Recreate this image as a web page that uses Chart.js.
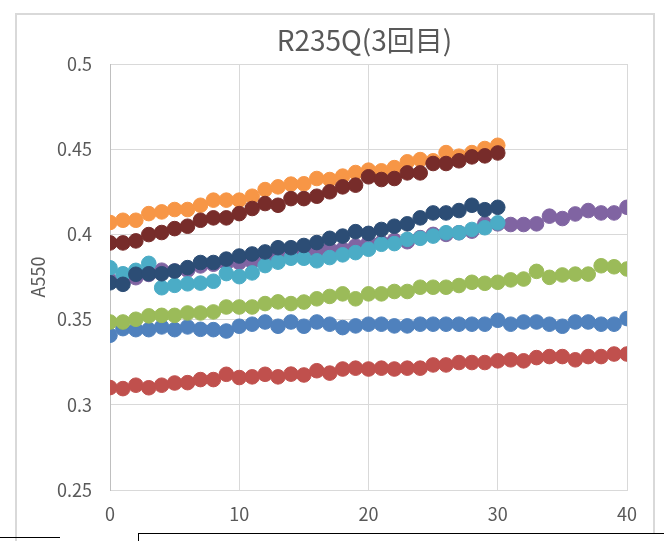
<!DOCTYPE html>
<html lang="ja">
<head>
  <meta charset="UTF-8">
  <title>R235Q(3回目)</title>
  <script src="https://cdn.jsdelivr.net/npm/chart.js"></script>
  <style>
    body {
      margin: 0;
      background: #fff;
      width: 664px;
      height: 541px;
      overflow: hidden;
      position: relative;
    }
    #chart {
      position: absolute;
      left: 0;
      top: 0;
    }
    .frame {
      position: absolute;
      left: 15px;
      top: 13px;
      width: 636px;
      height: 540px;
      border: 2px solid #d9d9d9;
    }
    .edge-left {
      position: absolute;
      left: 0;
      top: 537px;
      width: 60px;
      border-top: 1px solid #000;
    }
    .edge-box {
      position: absolute;
      left: 138px;
      top: 533px;
      width: 540px;
      height: 20px;
      border: 1px solid #000;
      background: #fff;
    }
  </style>
</head>
<body>
  <div class="frame"></div>
  <canvas id="chart" width="664" height="541"></canvas>
  <div class="edge-left"></div>
  <div class="edge-box"></div>

  <script>
    const minutes = [0, 1, 2, 3, 4, 5, 6, 7, 8, 9, 10, 11, 12, 13, 14, 15, 16, 17, 18, 19, 20,
      21, 22, 23, 24, 25, 26, 27, 28, 29, 30, 31, 32, 33, 34, 35, 36, 37, 38, 39, 40];

    const blue = [0.3408, 0.3447, 0.3441, 0.3441, 0.3457, 0.3441, 0.3457, 0.3443, 0.3441, 0.3433,
      0.3461, 0.3473, 0.3486, 0.3461, 0.3486, 0.3461, 0.3486, 0.3473, 0.3453, 0.3463,
      0.3473, 0.3473, 0.3463, 0.3463, 0.3473, 0.3473, 0.3473, 0.3473, 0.3473, 0.3473,
      0.3496, 0.3473, 0.3486, 0.3486, 0.3473, 0.3461, 0.3486, 0.3486, 0.3473, 0.3473, 0.3506];

    const red = [0.3101, 0.3095, 0.3115, 0.3100, 0.3115, 0.3128, 0.3130, 0.3148, 0.3148, 0.3179,
      0.3160, 0.3164, 0.3179, 0.3164, 0.3180, 0.3175, 0.3200, 0.3186, 0.3210, 0.3215,
      0.3210, 0.3215, 0.3210, 0.3215, 0.3215, 0.3234, 0.3234, 0.3248, 0.3248, 0.3248,
      0.3258, 0.3264, 0.3258, 0.3277, 0.3283, 0.3283, 0.3264, 0.3283, 0.3283, 0.3298, 0.3298];

    const green = [0.3486, 0.3486, 0.3502, 0.3522, 0.3525, 0.3525, 0.3539, 0.3539, 0.3545, 0.3574,
      0.3574, 0.3574, 0.3594, 0.3604, 0.3594, 0.3603, 0.3622, 0.3636, 0.3651, 0.3622,
      0.3651, 0.3651, 0.3665, 0.3665, 0.3690, 0.3690, 0.3690, 0.3700, 0.3719, 0.3713,
      0.3719, 0.3733, 0.3738, 0.3783, 0.3748, 0.3762, 0.3767, 0.3767, 0.3816, 0.3810, 0.3797];

    const purple = [0.3730, 0.3726, 0.3746, 0.3765, 0.3790, 0.3785, 0.3790, 0.3815, 0.3825, 0.3830,
      0.3835, 0.3840, 0.3850, 0.3875, 0.3885, 0.3895, 0.3903, 0.3913, 0.3913, 0.3932,
      0.3952, 0.3952, 0.3965, 0.3957, 0.3981, 0.4000, 0.4000, 0.4010, 0.4019, 0.4062,
      0.4062, 0.4058, 0.4058, 0.4062, 0.4107, 0.4093, 0.4120, 0.4140, 0.4126, 0.4126, 0.4159];

    const aqua = [0.3804, 0.3769, 0.3789, 0.3830, 0.3687, 0.3701, 0.3710, 0.3714, 0.3725, 0.3770,
      0.3752, 0.3774, 0.3817, 0.3837, 0.3860, 0.3860, 0.3845, 0.3864, 0.3880, 0.3893,
      0.3913, 0.3942, 0.3946, 0.3971, 0.3977, 0.3990, 0.4010, 0.4010, 0.4029, 0.4039, 0.4068];

    const orange = [0.4070, 0.4083, 0.4083, 0.4122, 0.4132, 0.4146, 0.4146, 0.4171, 0.4201, 0.4201,
      0.4201, 0.4224, 0.4263, 0.4279, 0.4295, 0.4297, 0.4328, 0.4322, 0.4342, 0.4363,
      0.4377, 0.4373, 0.4392, 0.4426, 0.4439, 0.4432, 0.4480, 0.4459, 0.4480, 0.4504, 0.4523];

    const darkBlue = [0.3716, 0.3707, 0.3766, 0.3769, 0.3769, 0.3785, 0.3805, 0.3835, 0.3835, 0.3855,
      0.3873, 0.3885, 0.3897, 0.3922, 0.3922, 0.3935, 0.3952, 0.3977, 0.3990, 0.4016,
      0.4006, 0.4029, 0.4048, 0.4062, 0.4097, 0.4126, 0.4126, 0.4140, 0.4171, 0.4145, 0.4159];

    const darkRed = [0.3950, 0.3950, 0.3962, 0.3999, 0.4011, 0.4034, 0.4048, 0.4083, 0.4097, 0.4097,
      0.4122, 0.4152, 0.4181, 0.4171, 0.4210, 0.4210, 0.4224, 0.4250, 0.4279, 0.4289,
      0.4338, 0.4322, 0.4328, 0.4361, 0.4361, 0.4416, 0.4416, 0.4432, 0.4455, 0.4461, 0.4478];

    const xTicks = [0, 10, 20, 30, 40];
    const yTicks = [0.25, 0.3, 0.35, 0.4, 0.45, 0.5];

    const FONT = "'Noto Sans CJK JP', 'Noto Sans', sans-serif";
    const TEXT = "#595959";

    // series in Excel order; later series drawn on top
    const series = [
      { values: blue, color: "#4F81BD" },
      { values: red, color: "#C0504D" },
      { values: green, color: "#9BBB59" },
      { values: purple, color: "#8064A2", dotted: true },
      { values: aqua, color: "#4BACC6" },
      { values: orange, color: "#F79646" },
      { values: darkBlue, color: "#2C4D75" },
      { values: darkRed, color: "#772C2A" }
    ];

    const datasets = series.map((s, i) => ({
      data: s.values.map((v, j) => ({ x: minutes[j], y: v })),
      showLine: !!s.dotted,
      borderColor: s.color,
      borderWidth: 2,
      borderDash: [2, 3],
      backgroundColor: s.color,
      pointRadius: 7.3,
      pointBorderWidth: 1,
      pointBorderColor: s.color,
      pointBackgroundColor: s.color,
      order: series.length - i
    }));

    const titlePlugin = {
      id: "chartTitle",
      afterDraw(chart) {
        const { ctx, chartArea } = chart;
        ctx.save();
        ctx.font = "28px " + FONT;
        ctx.fillStyle = TEXT;
        ctx.textAlign = "center";
        ctx.textBaseline = "middle";
        ctx.fillText("R235Q(3回目)", (chartArea.left + chartArea.right) / 2 - 4, 40);
        ctx.restore();
      }
    };

    new Chart(document.getElementById("chart").getContext("2d"), {
      type: "scatter",
      data: { datasets: datasets },
      plugins: [titlePlugin],
      options: {
        responsive: false,
        animation: false,
        layout: { padding: { top: 64, right: 37, bottom: 0, left: 0 } },
        plugins: {
          legend: { display: false },
          tooltip: { enabled: false }
        },
        scales: {
          x: {
            type: "linear",
            min: 0,
            max: 40,
            afterBuildTicks(scale) { scale.ticks = xTicks.map(v => ({ value: v })); },
            afterFit(scale) { scale.height = 51; },
            grid: { color: "#d9d9d9", drawTicks: false },
            border: { color: "#d9d9d9" },
            ticks: { color: TEXT, font: { family: FONT, size: 18 }, padding: 13 }
          },
          y: {
            min: 0.25,
            max: 0.5,
            afterBuildTicks(scale) { scale.ticks = yTicks.map(v => ({ value: v })); },
            afterFit(scale) { scale.width = 110; },
            grid: { color: "#d9d9d9", drawTicks: false },
            border: { color: "#bfbfbf" },
            ticks: {
              color: TEXT,
              font: { family: FONT, size: 18 },
              padding: 18,
              callback: v => String(v)
            },
            title: {
              display: true,
              text: "A550",
              color: TEXT,
              font: { family: FONT, size: 18 },
              padding: { top: 27, bottom: 0 }
            }
          }
        }
      }
    });
  </script>
</body>
</html>
